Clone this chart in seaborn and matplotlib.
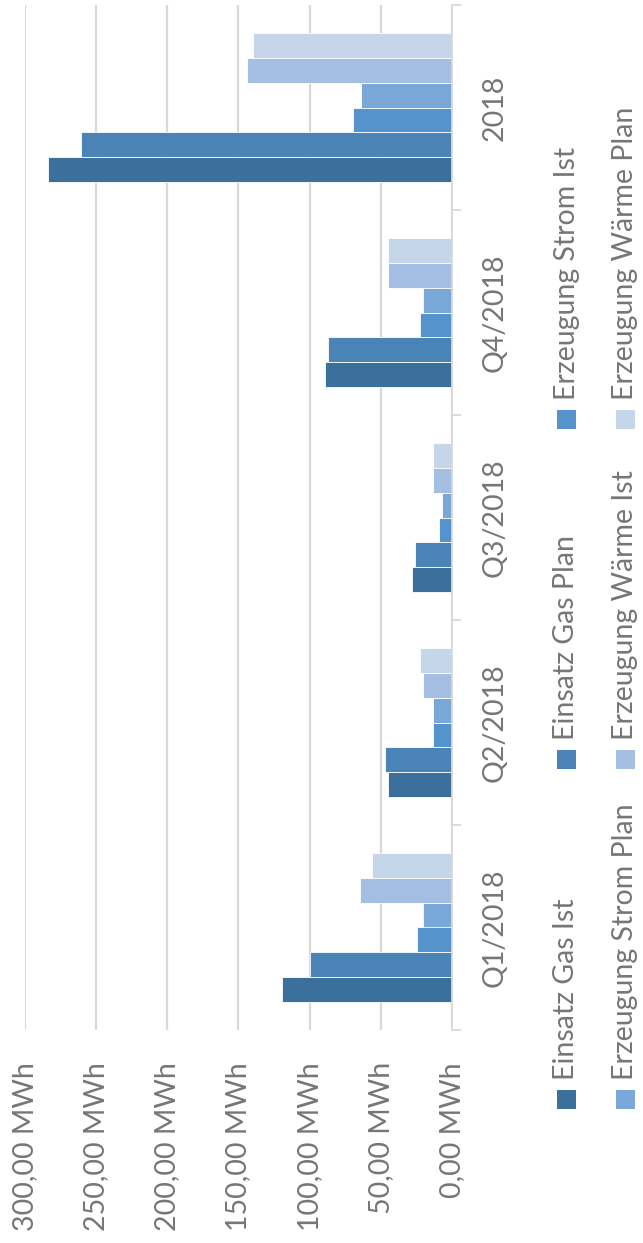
import numpy as np
import pandas as pd
import matplotlib
matplotlib.use("Agg")
import matplotlib.pyplot as plt
from matplotlib.patches import Rectangle
import seaborn as sns

# Daten (MWh)
categories = ["Q1/2018", "Q2/2018", "Q3/2018", "Q4/2018", "2018"]
series = ["Einsatz Gas Ist", "Einsatz Gas Plan", "Erzeugung Strom Ist",
          "Erzeugung Strom Plan", "Erzeugung Wärme Ist", "Erzeugung Wärme Plan"]
gas_ist = [119.1, 45.3, 28.4, 88.9, 283.7]
gas_plan = [100.1, 47.4, 26.3, 86.8, 260.9]
strom_ist = [24.4, 13.4, 9.4, 22.8, 69.9]
strom_plan = [20.7, 13.4, 7.3, 20.7, 64.0]
waerme_ist = [64.3, 20.7, 13.4, 45.3, 143.7]
waerme_plan = [56.5, 22.8, 13.4, 45.3, 139.5]
colors = ["#3B6F9C", "#4A83B5", "#5493CB", "#79A7D8", "#A4BFE2", "#C5D5EA"]

values = [gas_ist, gas_plan, strom_ist, strom_plan, waerme_ist, waerme_plan]
df = pd.DataFrame({
    "Zeitraum": categories * len(series),
    "Reihe": [s for s in series for _ in categories],
    "Wert": [v for vals in values for v in vals],
})

sns.set_style("white")
plt.rcParams["font.family"] = ["Lato", "DejaVu Sans"]
text_color = "#767676"
grid_color = "#D9D9D9"
fs = 20.5

W, H = 643, 1243
fig = plt.figure(figsize=(W / 100, H / 100), dpi=100)
ax = fig.add_axes([25 / W, (H - 1030) / H, (452 - 25) / W, (1030 - 5) / H])

sns.barplot(data=df, x="Wert", y="Zeitraum", hue="Reihe",
            order=categories[::-1], hue_order=series[::-1],
            palette=dict(zip(series, colors)), saturation=1,
            width=0.73, gap=0, orient="h", errorbar=None, legend=False,
            edgecolor="white", linewidth=0.6, ax=ax)

# value axis (rotated chart: values grow to the left)
ax.set_xlim(300, 0)
ticks = list(range(0, 301, 50))
ax.set_xticks(ticks)
ax.set_xticklabels([f"{t},00 MWh" for t in ticks])
ax.tick_params(axis="x", length=0, pad=23, labelsize=fs,
               labelcolor=text_color, labelrotation=90)
ax.grid(axis="x", color=grid_color, linewidth=1.6)
ax.grid(axis="y", visible=False)
ax.set_axisbelow(True)

# category axis on the right
ax.yaxis.tick_right()
ax.set_yticks(range(len(categories)))
ax.set_yticklabels(categories[::-1], rotation=90, va="center", ha="left")
ax.set_yticks(np.arange(-0.5, len(categories), 1), minor=True)
ax.tick_params(axis="y", which="major", length=0, pad=21.5,
               labelsize=fs, labelcolor=text_color)
ax.tick_params(axis="y", which="minor", length=6.5, width=1.3, color=grid_color)
ax.set_ylim(len(categories) - 0.5, -0.5)

for side in ["top", "left", "bottom"]:
    ax.spines[side].set_visible(False)
ax.spines["right"].set_color(grid_color)
ax.spines["right"].set_linewidth(1.3)
ax.set_xlabel("")
ax.set_ylabel("")

# legend, drawn rotated like the rest of the chart
legend_cols = [566.5, 625.5]
legend_rows = [1099.5, 759.5, 419.5]
for i, (name, col) in enumerate(zip(series, colors)):
    cx = legend_cols[i // 3]
    cy = legend_rows[i % 3]
    fig.add_artist(Rectangle(((cx - 9.5) / W, (H - cy - 9.5) / H), 19 / W, 19 / H,
                             transform=fig.transFigure, facecolor=col,
                             edgecolor="none"))
    fig.text(cx / W, (H - cy + 19.5) / H, name, rotation=90, ha="center",
             va="bottom", fontsize=fs, color=text_color)

fig.savefig("out.png", dpi=100)
